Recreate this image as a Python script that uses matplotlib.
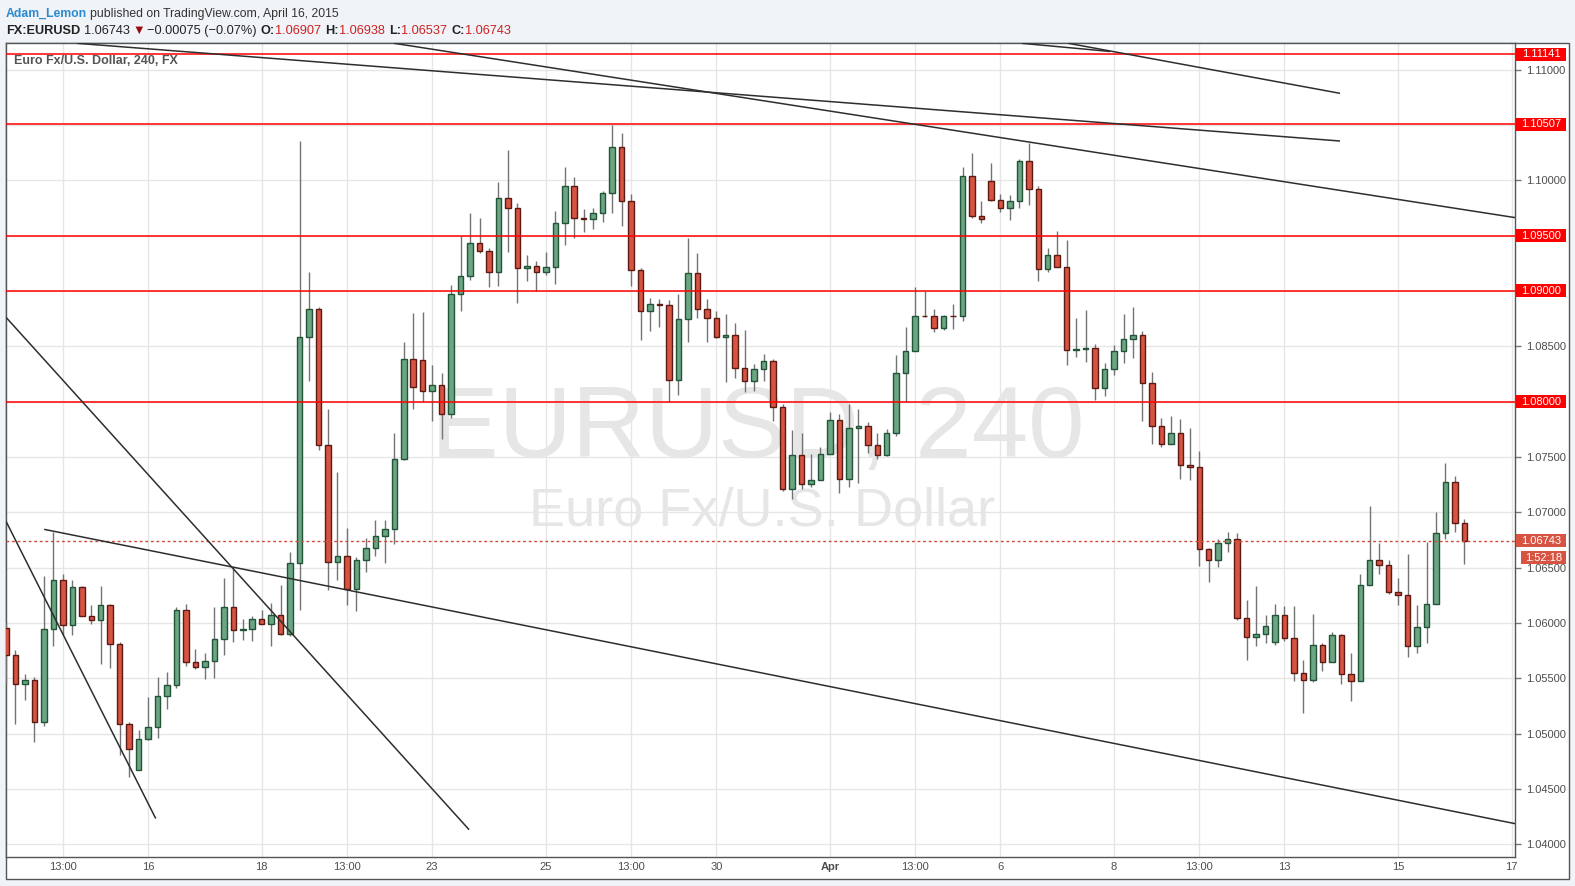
import matplotlib
matplotlib.use('Agg')
import matplotlib.pyplot as plt
import matplotlib.transforms as mtransforms
from matplotlib.patches import Rectangle
import numpy as np

plt.rcParams['font.family'] = ['Liberation Sans', 'DejaVu Sans']

# ---------------- data (EUR/USD 4h candles) ----------------
opens = [1.05955, 1.05709, 1.05445, 1.05482, 1.05109, 1.05945, 1.06391, 1.05982, 1.06327, 1.06064,
         1.06027, 1.06164, 1.05809, 1.05091, 1.04673, 1.04955, 1.05064, 1.05336, 1.05436, 1.06118,
         1.05645, 1.05600, 1.05655, 1.05855, 1.06145, 1.05936, 1.05945, 1.06036, 1.05991, 1.06073,
         1.05900, 1.06542, 1.08584, 1.08837, 1.07608, 1.06548, 1.06608, 1.06310, 1.06566, 1.06675,
         1.06783, 1.06846, 1.07482, 1.08386, 1.08377, 1.08096, 1.08151, 1.07892, 1.08973, 1.09136,
         1.09437, 1.09364, 1.09175, 1.09837, 1.09747, 1.09211, 1.09230, 1.09175, 1.09221, 1.09611,
         1.09946, 1.09657, 1.09650, 1.09702, 1.09883, 1.10298, 1.09810, 1.09193, 1.08819, 1.08883,
         1.08875, 1.08196, 1.08747, 1.09166, 1.08837, 1.08756, 1.08584, 1.08599, 1.08302, 1.08185,
         1.08293, 1.08365, 1.07955, 1.07212, 1.07518, 1.07257, 1.07293, 1.07527, 1.07833, 1.07302,
         1.07761, 1.07779, 1.07608, 1.07518, 1.07716, 1.08257, 1.08455, 1.08775, 1.08775, 1.08667,
         1.08775, 1.08770, 1.10039, 1.09675, 1.09991, 1.09825, 1.09747, 1.09810, 1.10172, 1.09919,
         1.09202, 1.09328, 1.09220, 1.08464, 1.08476, 1.08485, 1.08123, 1.08295, 1.08458, 1.08566,
         1.08602, 1.08166, 1.07783, 1.07620, 1.07720, 1.07428, 1.07410, 1.06666, 1.06570, 1.06722,
         1.06758, 1.06045, 1.05873, 1.05900, 1.05828, 1.06073, 1.05864, 1.05545, 1.05482, 1.05801,
         1.05645, 1.05889, 1.05536, 1.05473, 1.06346, 1.06573, 1.06527, 1.06281, 1.06254, 1.05792,
         1.05964, 1.06172, 1.06810, 1.07273, 1.06907]
highs = [1.06000, 1.05758, 1.05539, 1.05515, 1.06421, 1.06824, 1.06445, 1.06385, 1.06335, 1.06167,
         1.06330, 1.06170, 1.05824, 1.05106, 1.05030, 1.05330, 1.05515, 1.05558, 1.06145, 1.06176,
         1.05767, 1.05730, 1.06140, 1.06403, 1.06500, 1.06040, 1.06067, 1.06121, 1.06185, 1.06340,
         1.06645, 1.10355, 1.09175, 1.08858, 1.07937, 1.07361, 1.06861, 1.06596, 1.06765, 1.06931,
         1.06931, 1.07720, 1.08542, 1.08804, 1.08813, 1.08334, 1.08259, 1.09054, 1.09497, 1.09702,
         1.09663, 1.09390, 1.09985, 1.10274, 1.09795, 1.09322, 1.09268, 1.09352, 1.09723, 1.10120,
         1.10030, 1.09738, 1.09750, 1.09904, 1.10502, 1.10430, 1.09873, 1.09205, 1.08940, 1.08928,
         1.08922, 1.08970, 1.09479, 1.09340, 1.08931, 1.08818, 1.08791, 1.08707, 1.08644, 1.08338,
         1.08431, 1.08383, 1.07975, 1.07743, 1.07713, 1.07527, 1.07590, 1.07905, 1.07887, 1.07980,
         1.07935, 1.07815, 1.07716, 1.07752, 1.08419, 1.08671, 1.09036, 1.09000, 1.08840, 1.08784,
         1.08883, 1.10123, 1.10250, 1.09813, 1.10157, 1.09876, 1.09864, 1.10193, 1.10334, 1.09949,
         1.09386, 1.09539, 1.09457, 1.08756, 1.08831, 1.08524, 1.08352, 1.08512, 1.08795, 1.08855,
         1.08639, 1.08270, 1.07855, 1.07873, 1.07846, 1.07765, 1.07554, 1.06676, 1.06760, 1.06824,
         1.06809, 1.06211, 1.06338, 1.06076, 1.06175, 1.06157, 1.06157, 1.05665, 1.06085, 1.05822,
         1.05920, 1.05901, 1.05726, 1.06440, 1.07057, 1.06719, 1.06566, 1.06402, 1.06622, 1.06163,
         1.06731, 1.07003, 1.07445, 1.07330, 1.06938]
lows = [1.05450, 1.05088, 1.05303, 1.04924, 1.05070, 1.05788, 1.05894, 1.05894, 1.06060, 1.05994,
        1.05633, 1.05597, 1.04806, 1.04606, 1.04670, 1.04940, 1.04961, 1.05224, 1.05415, 1.05615,
        1.05585, 1.05497, 1.05506, 1.05715, 1.05824, 1.05850, 1.05833, 1.05990, 1.05788, 1.05888,
        1.05880, 1.06120, 1.08184, 1.07560, 1.06298, 1.06389, 1.06163, 1.06112, 1.06461, 1.06608,
        1.06545, 1.06711, 1.07470, 1.07937, 1.08000, 1.07822, 1.07660, 1.07853, 1.08816, 1.09096,
        1.09340, 1.09033, 1.09045, 1.09352, 1.08889, 1.09087, 1.08997, 1.09141, 1.09060, 1.09416,
        1.09476, 1.09530, 1.09563, 1.09627, 1.09708, 1.09590, 1.09042, 1.08554, 1.08635, 1.08671,
        1.08000, 1.08057, 1.08536, 1.08756, 1.08536, 1.08572, 1.08182, 1.08218, 1.08083, 1.08092,
        1.08185, 1.07826, 1.07195, 1.07122, 1.07212, 1.07230, 1.07290, 1.07527, 1.07176, 1.07230,
        1.07266, 1.07536, 1.07485, 1.07509, 1.07690, 1.08000, 1.08455, 1.08766, 1.08627, 1.08649,
        1.08654, 1.08726, 1.09663, 1.09617, 1.09813, 1.09717, 1.09644, 1.09753, 1.09780, 1.09090,
        1.09172, 1.09220, 1.08328, 1.08404, 1.08358, 1.08018, 1.08048, 1.08244, 1.08349, 1.08392,
        1.07825, 1.07617, 1.07590, 1.07620, 1.07300, 1.07291, 1.06518, 1.06370, 1.06503, 1.06640,
        1.06030, 1.05662, 1.05788, 1.05816, 1.05798, 1.05834, 1.05479, 1.05189, 1.05467, 1.05567,
        1.05645, 1.05451, 1.05299, 1.05473, 1.06346, 1.06443, 1.06260, 1.06160, 1.05689, 1.05725,
        1.05815, 1.06172, 1.06760, 1.06824, 1.06537]
closes = [1.05709, 1.05445, 1.05482, 1.05109, 1.05945, 1.06391, 1.05982, 1.06327, 1.06064, 1.06027,
          1.06164, 1.05809, 1.05091, 1.04864, 1.04955, 1.05064, 1.05336, 1.05436, 1.06118, 1.05645,
          1.05600, 1.05655, 1.05855, 1.06145, 1.05936, 1.05948, 1.06036, 1.05991, 1.06073, 1.05900,
          1.06542, 1.08584, 1.08837, 1.07608, 1.06548, 1.06608, 1.06310, 1.06566, 1.06675, 1.06783,
          1.06846, 1.07482, 1.08386, 1.08133, 1.08096, 1.08151, 1.07892, 1.08973, 1.09136, 1.09437,
          1.09361, 1.09175, 1.09837, 1.09747, 1.09211, 1.09230, 1.09175, 1.09221, 1.09611, 1.09946,
          1.09657, 1.09650, 1.09702, 1.09883, 1.10298, 1.09810, 1.09193, 1.08819, 1.08883, 1.08875,
          1.08196, 1.08747, 1.09166, 1.08837, 1.08756, 1.08584, 1.08599, 1.08302, 1.08185, 1.08293,
          1.08365, 1.07955, 1.07212, 1.07518, 1.07257, 1.07293, 1.07527, 1.07833, 1.07302, 1.07761,
          1.07779, 1.07608, 1.07518, 1.07716, 1.08257, 1.08455, 1.08775, 1.08770, 1.08667, 1.08775,
          1.08770, 1.10039, 1.09675, 1.09654, 1.09825, 1.09747, 1.09810, 1.10172, 1.09919, 1.09202,
          1.09328, 1.09220, 1.08464, 1.08476, 1.08485, 1.08123, 1.08295, 1.08458, 1.08566, 1.08602,
          1.08166, 1.07783, 1.07620, 1.07720, 1.07428, 1.07410, 1.06666, 1.06570, 1.06722, 1.06758,
          1.06045, 1.05873, 1.05900, 1.05973, 1.06073, 1.05864, 1.05545, 1.05482, 1.05801, 1.05645,
          1.05889, 1.05536, 1.05473, 1.06346, 1.06573, 1.06527, 1.06281, 1.06254, 1.05792, 1.05964,
          1.06172, 1.06810, 1.07273, 1.06907, 1.06743]

tick_pos = [6, 15, 27, 36, 45, 57, 66, 75, 87, 96, 105, 117, 126, 135, 147, 159]
tick_labels = ['13:00', '16', '18', '13:00', '23', '25', '13:00', '30', 'Apr',
               '13:00', '6', '8', '13:00', '13', '15', '17']

# price scale ticks that stay visible (the others sit under the level boxes)
price_ticks = [1.040, 1.045, 1.050, 1.055, 1.060, 1.065, 1.070, 1.075, 1.085, 1.100, 1.110]
grid_prices = [1.040, 1.045, 1.050, 1.055, 1.060, 1.065, 1.070, 1.075, 1.080, 1.085,
               1.090, 1.095, 1.100, 1.105, 1.110]

levels = [1.11141, 1.10507, 1.09500, 1.09000, 1.08000]
last_price = 1.06743
timer = '1:52:18'

# trend lines: (x0, y0, x1, y1) in (bar index, price)
trend_lines = [
    (7.47, 1.11238, 140.86, 1.10355),
    (40.97, 1.11238, 159.34, 1.09663),
    (107.25, 1.11238, 116.58, 1.11164),
    (112.17, 1.11238, 140.86, 1.10786),
    (0.0, 1.08762, 48.90, 1.04132),
    (0.0, 1.06919, 15.81, 1.04233),
    (4.03, 1.06846, 159.34, 1.04187),
]

# ---------------- figure ----------------
W, H = 1575, 886
fig = plt.figure(figsize=(W / 100, H / 100), dpi=100)
fig.patch.set_facecolor('#f0f3f7')


def fx(px):
    return px / W


def fy(py):
    return 1 - py / H


fig.add_artist(Rectangle((fx(6.3), fy(879)), fx(1569) - fx(6.3), fy(43.3) - fy(879),
                         transform=fig.transFigure, facecolor='white',
                         edgecolor='#555555', lw=1, zorder=-1))

ax = fig.add_axes([fx(6.3), fy(857), fx(1515) - fx(6.3), fy(43.3) - fy(857)])
ax.set_facecolor('white')
ax.set_xlim(0.03, 159.34)
ax.set_ylim(1.038855, 1.112379)

# grid
for gp in grid_prices:
    ax.axhline(gp, color='#e6e6e6', lw=1, zorder=0.5)
for tp in tick_pos:
    ax.axvline(tp, color='#e6e6e6', lw=1, zorder=0.5)

ax.set_yticks(price_ticks)
ax.set_yticklabels(['%.5f' % v for v in price_ticks])
ax.set_xticks(tick_pos)
ax.set_xticklabels(tick_labels)
for lab in ax.get_xticklabels():
    if lab.get_text() == 'Apr':
        lab.set_fontweight('bold')
ax.yaxis.tick_right()
ax.tick_params(axis='y', length=4, width=1, color='#777777', labelsize=8,
               labelcolor='#4d4d4d', pad=4)
ax.tick_params(axis='x', length=0, labelsize=8, labelcolor='#4d4d4d', pad=3.5)
for s in ax.spines.values():
    s.set_color('#555555')
    s.set_linewidth(1)

# watermark
ax.text(fx(757.5), fy(457), 'EURUSD, 240', transform=fig.transFigure, fontsize=73,
        color='#e6e6e6', ha='center', va='baseline', zorder=1)
ax.text(fx(762), fy(525.3), 'Euro Fx/U.S. Dollar', transform=fig.transFigure, fontsize=39,
        color='#e6e6e6', ha='center', va='baseline', zorder=1)

# candles
idx = np.arange(len(opens))
o = np.array(opens)
h = np.array(highs)
l = np.array(lows)
c = np.array(closes)
up = c >= o
ax.vlines(idx, l, h, color='#737373', lw=1, zorder=3)
ax.bar(idx[up], (c - o)[up], bottom=o[up], width=0.58, color='#6ba583',
       edgecolor='#225437', lw=1, zorder=4)
ax.bar(idx[~up], (o - c)[~up], bottom=c[~up], width=0.58, color='#d75442',
       edgecolor='#5b1a13', lw=1, zorder=4)

# horizontal levels
for lv in levels:
    ax.axhline(lv, color='#ff0000', lw=1.1, zorder=5)
ax.axhline(last_price, color='#d0493a', lw=1, ls=(0, (2, 2)), zorder=5)

# trend lines
for x0, y0, x1, y1 in trend_lines:
    ax.plot([x0, x1], [y0, y1], color='#2e2e2e', lw=1.1, zorder=6,
            solid_capstyle='butt')

# label inside chart
ax.text(fx(14), fy(63.5), 'Euro Fx/U.S. Dollar, 240, FX', transform=fig.transFigure,
        fontsize=9, fontweight='bold', color='#555555', ha='left', va='baseline', zorder=7)

# price boxes on the right scale
blend = mtransforms.blended_transform_factory(fig.transFigure, ax.transData)
box_h = 13 / 11067.0


def price_box(price, text, color, x0=1516, x1=1566):
    fig.add_artist(Rectangle((fx(x0), price - box_h / 2), fx(x1) - fx(x0), box_h,
                             transform=blend, facecolor=color, edgecolor='none', zorder=10))
    fig.text(fx((x0 + x1) / 2), price, text, transform=blend, color='white', fontsize=8,
             ha='center', va='center', zorder=11)


for lv in levels:
    price_box(lv, '%.5f' % lv, '#ff0000')
price_box(last_price, '%.5f' % last_price, '#d75442')
price_box(last_price - 16.8 / 11067.0, timer, '#d75442', x0=1521)


# header (rich text)
def chain(items, x, y, size):
    s0, col0, wt0 = items[0][:3]
    prev = fig.text(fx(x), fy(y), s0, color=col0, fontweight=wt0, fontsize=size,
                    ha='left', va='baseline')
    for s, col, wt, gap in items[1:]:
        prev = ax.annotate(s, xy=(1, 0), xycoords=prev, xytext=(gap, 0),
                           textcoords='offset points', va='bottom', ha='left',
                           color=col, fontweight=wt, fontsize=size, annotation_clip=False)


blue = '#2a8ad0'
red = '#cc2222'
chain([('Adam_Lemon', blue, 'bold'),
       ('published on TradingView.com, April 16, 2015', '#333333', 'normal', 2.4)],
      6, 16.5, 8.8)
chain([('FX:EURUSD', '#222222', 'bold'),
       ('1.06743', '#222222', 'normal', 2.8),
       ('\u25bc', '#9b0a0a', 'normal', 1.6),
       ('\u22120.00075 (\u22120.07%)', '#222222', 'normal', 1.6),
       ('O:', '#222222', 'bold', 2.8),
       ('1.06907', red, 'normal', 0.3),
       ('H:', '#222222', 'bold', 2.8),
       ('1.06938', red, 'normal', 0.3),
       ('L:', '#222222', 'bold', 2.8),
       ('1.06537', red, 'normal', 0.3),
       ('C:', '#222222', 'bold', 2.8),
       ('1.06743', red, 'normal', 0.3)],
      6, 34, 9.2)

fig.savefig('out.png', dpi=100, facecolor=fig.get_facecolor())
